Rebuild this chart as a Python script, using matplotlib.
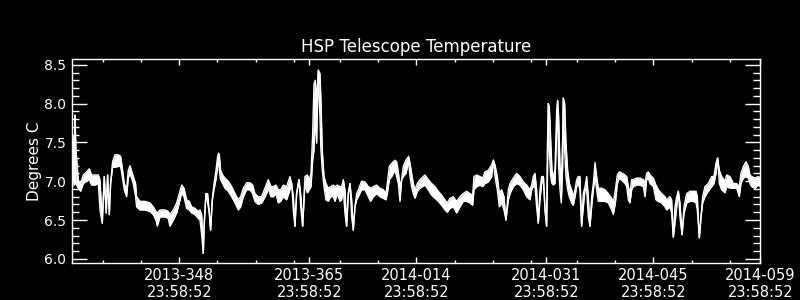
import matplotlib
matplotlib.use("Agg")
import matplotlib.pyplot as plt
from matplotlib.ticker import FixedLocator, MultipleLocator

# time in days relative to 2013-348 23:58:52
t_days = [-13.95, -13.77, -13.70, -13.64, -13.51, -13.21, -12.90, -12.55, -12.12, -11.77,
          -11.46, -11.03, -10.59, -10.37, -10.07, -9.81, -9.55, -9.37, -9.15, -8.98,
          -8.72, -8.41, -7.97, -7.67, -7.45, -7.19, -6.89, -6.67, -6.45, -6.01,
          -5.71, -5.58, -5.14, -4.49, -3.83, -3.40, -3.05, -2.87, -2.52, -1.87,
          -1.43, -1.22, -0.78, -0.34, 0.00, 0.31, 0.62, 0.96, 1.31, 1.62,
          2.05, 2.49, 2.71, 2.93, 3.14, 3.27, 3.49, 3.71, 3.93, 4.10,
          4.32, 4.54, 4.80, 5.02, 5.15, 5.24, 5.41, 5.67, 5.98, 6.41,
          6.85, 7.29, 7.72, 8.03, 8.38, 8.81, 9.25, 9.60, 9.90, 10.34,
          10.77, 11.12, 11.43, 11.64, 11.99, 12.30, 12.65, 12.95, 13.26, 13.61,
          14.04, 14.48, 14.70, 14.92, 15.13, 15.35, 15.66, 15.92, 16.14, 16.44,
          16.75, 17.01, 17.23, 17.45, 17.62, 17.79, 17.97, 18.19, 18.40, 18.53,
          18.71, 18.93, 19.19, 19.49, 19.80, 20.15, 20.37, 20.67, 21.02, 21.24,
          21.46, 21.67, 21.89, 22.11, 22.33, 22.55, 22.76, 22.98, 23.20, 23.42,
          23.85, 24.29, 24.73, 25.03, 25.38, 25.82, 26.25, 26.69, 27.04, 27.21,
          27.47, 27.78, 28.21, 28.43, 28.65, 28.87, 29.09, 29.30, 29.65, 30.00,
          30.18, 30.39, 30.61, 30.83, 31.14, 31.49, 32.14, 32.57, 33.01, 33.45,
          33.88, 34.32, 34.75, 35.06, 35.41, 35.84, 36.28, 36.72, 37.15, 37.59,
          38.02, 38.37, 38.55, 38.90, 39.33, 39.68, 39.99, 40.42, 40.86, 41.08,
          41.30, 41.60, 41.86, 42.17, 42.47, 42.73, 43.04, 43.26, 43.69, 44.13,
          44.56, 45.00, 45.44, 45.87, 46.09, 46.31, 46.53, 46.74, 46.96, 47.18,
          47.40, 47.62, 47.84, 48.05, 48.14, 48.27, 48.40, 48.58, 48.75, 48.93,
          49.14, 49.36, 49.49, 49.62, 49.80, 49.97, 50.15, 50.23, 50.41, 50.58,
          50.80, 51.02, 51.32, 51.54, 51.76, 51.98, 52.20, 52.41, 52.63, 52.85,
          53.07, 53.29, 53.50, 53.72, 53.94, 54.16, 54.38, 54.59, 54.81, 55.25,
          55.68, 56.12, 56.56, 56.77, 57.04, 57.30, 57.56, 58.00, 58.30, 58.52,
          58.74, 58.95, 59.17, 59.39, 59.83, 60.26, 60.70, 60.92, 61.13, 61.35,
          61.57, 62.01, 62.35, 62.66, 63.10, 63.53, 63.75, 64.19, 64.40, 64.62,
          64.84, 65.06, 65.28, 65.49, 65.76, 66.02, 66.37, 66.80, 67.24, 67.59,
          67.76, 68.02, 68.24, 68.46, 68.76, 69.20, 69.64, 69.94, 70.20, 70.42,
          70.64, 70.94, 71.38, 71.60, 72.03, 72.47, 72.91, 73.25, 73.47, 73.78,
          74.13, 74.43, 74.65, 74.87, 75.30, 75.74, 76.00]

# upper envelope of the temperature trace (deg C)
temp_hi = [7.27, 7.59, 7.00, 7.85, 7.40, 7.01, 6.97, 7.08, 7.12, 7.16,
           7.08, 7.08, 7.08, 7.02, 6.46, 7.06, 6.59, 7.08, 6.57, 6.97,
           7.25, 7.34, 7.34, 7.32, 7.17, 6.97, 6.89, 7.14, 7.20, 7.06,
           6.97, 6.80, 6.74, 6.74, 6.72, 6.67, 6.61, 6.59, 6.63, 6.63,
           6.61, 6.57, 6.63, 6.72, 6.84, 6.95, 6.91, 6.76, 6.74, 6.67,
           6.65, 6.61, 6.63, 6.57, 6.07, 6.46, 6.84, 6.84, 6.59, 6.37,
           6.76, 6.97, 7.14, 7.32, 7.36, 7.34, 7.14, 7.08, 7.04, 7.00,
           6.93, 6.84, 6.76, 6.80, 6.91, 6.98, 6.98, 6.95, 6.84, 6.80,
           6.80, 6.89, 6.97, 7.02, 6.93, 6.93, 6.95, 6.89, 6.89, 6.95,
           6.93, 7.06, 6.97, 6.80, 6.42, 6.84, 7.02, 6.80, 6.42, 7.06,
           7.08, 7.02, 7.10, 7.62, 8.25, 8.30, 8.04, 8.43, 8.39, 8.04,
           7.40, 7.06, 6.97, 6.91, 6.93, 6.95, 6.93, 6.95, 6.93, 6.93,
           7.02, 6.89, 6.42, 6.84, 6.97, 6.76, 6.37, 6.67, 6.84, 6.89,
           7.00, 6.99, 6.93, 6.91, 6.93, 6.95, 6.91, 6.89, 6.84, 6.97,
           7.19, 7.23, 7.27, 7.25, 7.12, 6.93, 7.02, 7.19, 7.27, 7.32,
           7.23, 7.10, 6.97, 6.89, 6.97, 7.02, 7.08, 7.02, 6.97, 6.93,
           6.87, 6.82, 6.76, 6.72, 6.78, 6.80, 6.74, 6.80, 6.84, 6.87,
           6.84, 6.82, 7.06, 7.08, 7.06, 7.04, 7.12, 7.14, 7.21, 7.27,
           7.21, 7.06, 6.84, 6.89, 6.80, 6.50, 6.89, 6.97, 7.04, 7.10,
           7.06, 6.99, 6.95, 6.89, 6.95, 7.06, 7.10, 6.89, 6.46, 6.89,
           7.06, 7.06, 6.63, 6.42, 7.40, 8.00, 7.96, 7.53, 7.14, 7.06,
           7.14, 7.90, 8.04, 7.83, 7.19, 6.97, 7.57, 8.07, 8.00, 7.49,
           7.14, 6.97, 6.89, 6.80, 6.89, 7.02, 7.06, 7.06, 6.42, 6.84,
           6.93, 7.06, 6.80, 6.42, 6.80, 6.97, 7.24, 7.06, 6.91, 6.91,
           6.89, 6.84, 6.78, 6.72, 6.89, 7.08, 7.12, 7.10, 7.08, 7.06,
           6.93, 6.84, 7.02, 7.02, 7.04, 7.04, 7.02, 6.97, 7.10, 7.12,
           7.08, 7.04, 6.95, 6.89, 6.84, 6.80, 6.76, 6.80, 6.76, 6.28,
           6.67, 6.80, 6.87, 6.72, 6.31, 6.67, 6.84, 6.87, 6.87, 6.87,
           6.80, 6.27, 6.54, 6.80, 6.93, 6.97, 7.06, 7.06, 7.23, 7.30,
           7.14, 7.06, 7.00, 7.08, 7.06, 6.97, 6.97, 6.93, 7.10, 7.19,
           7.25, 7.19, 7.08, 7.06, 7.04, 7.06, 7.04]

# lower envelope of the temperature trace (deg C)
temp_lo = [6.93, 7.59, 6.95, 7.85, 6.97, 6.91, 6.87, 6.97, 7.00, 7.02,
           6.95, 6.95, 6.97, 6.63, 6.46, 7.06, 6.59, 7.08, 6.57, 6.97,
           7.18, 7.18, 7.19, 7.19, 7.06, 6.89, 6.80, 7.04, 7.10, 6.97,
           6.80, 6.67, 6.63, 6.63, 6.61, 6.57, 6.50, 6.42, 6.54, 6.54,
           6.52, 6.42, 6.50, 6.59, 6.72, 6.85, 6.80, 6.65, 6.63, 6.59,
           6.57, 6.52, 6.50, 6.31, 6.07, 6.46, 6.84, 6.72, 6.59, 6.37,
           6.76, 6.89, 7.02, 7.19, 7.30, 7.14, 7.02, 6.97, 6.91, 6.87,
           6.80, 6.72, 6.63, 6.67, 6.80, 6.89, 6.89, 6.84, 6.74, 6.70,
           6.72, 6.78, 6.84, 6.91, 6.80, 6.80, 6.84, 6.72, 6.74, 6.80,
           6.76, 6.89, 6.97, 6.63, 6.42, 6.84, 7.02, 6.63, 6.42, 6.97,
           6.85, 6.89, 6.93, 7.27, 7.40, 7.83, 7.49, 8.43, 7.83, 7.40,
           7.14, 6.93, 6.76, 6.74, 6.80, 6.80, 6.74, 6.84, 6.74, 6.76,
           6.89, 6.59, 6.42, 6.84, 6.97, 6.54, 6.37, 6.67, 6.76, 6.80,
           6.89, 6.89, 6.80, 6.74, 6.80, 6.84, 6.80, 6.78, 6.76, 6.84,
           7.02, 7.06, 7.14, 7.06, 6.97, 6.74, 7.02, 7.06, 7.10, 7.25,
           7.06, 6.93, 6.84, 6.78, 6.87, 6.91, 6.95, 6.89, 6.82, 6.78,
           6.74, 6.69, 6.63, 6.60, 6.65, 6.67, 6.59, 6.67, 6.74, 6.74,
           6.72, 6.69, 6.89, 6.93, 6.95, 6.93, 6.97, 6.99, 7.06, 7.27,
           7.06, 6.89, 6.67, 6.72, 6.63, 6.50, 6.76, 6.84, 6.93, 6.97,
           6.95, 6.89, 6.80, 6.76, 6.89, 6.93, 6.93, 6.67, 6.46, 6.76,
           6.97, 7.06, 6.63, 6.42, 6.89, 8.00, 7.40, 7.06, 6.97, 6.95,
           6.97, 7.62, 8.04, 7.19, 6.89, 6.72, 7.19, 8.07, 7.40, 7.06,
           6.89, 6.80, 6.72, 6.69, 6.80, 6.93, 6.97, 6.89, 6.42, 6.67,
           6.89, 6.89, 6.54, 6.42, 6.67, 6.89, 7.06, 6.89, 6.74, 6.74,
           6.74, 6.72, 6.63, 6.57, 6.72, 6.97, 7.04, 7.00, 6.97, 6.93,
           6.76, 6.72, 6.89, 6.93, 6.95, 6.95, 6.93, 6.80, 7.02, 7.04,
           6.97, 6.93, 6.76, 6.74, 6.72, 6.67, 6.63, 6.67, 6.59, 6.28,
           6.46, 6.67, 6.87, 6.54, 6.31, 6.59, 6.72, 6.74, 6.74, 6.72,
           6.63, 6.27, 6.54, 6.72, 6.80, 6.87, 6.93, 6.97, 7.10, 7.30,
           6.97, 6.89, 6.85, 6.93, 6.91, 6.91, 6.91, 6.80, 6.97, 7.04,
           7.06, 7.04, 6.97, 6.93, 6.91, 6.95, 6.93]

x_range = [-14.03, 76.0]
y_range = [5.95, 8.57]
major_days = [0, 17, 31, 48, 62, 76]
major_labels = ["2013-348\n23:58:52", "2013-365\n23:58:52", "2014-014\n23:58:52",
                "2014-031\n23:58:52", "2014-045\n23:58:52", "2014-059\n23:58:52"]
minor_days = [-10, -5, 5, 10, 15, 21, 26, 36, 41, 46, 52, 57, 67, 72]
y_ticks = [6.0, 6.5, 7.0, 7.5, 8.0, 8.5]

plt.rcParams['font.family'] = ['DejaVu Sans']
fig = plt.figure(figsize=(8, 3), dpi=100, facecolor='black')
ax = fig.add_axes([0.09, 0.1243, 0.8604, 0.678], facecolor='black')

ax.fill_between(t_days, temp_lo, temp_hi, color='white', lw=0)
ax.plot(t_days, temp_hi, color='white', lw=1.0)
ax.plot(t_days, temp_lo, color='white', lw=1.0)

ax.set_xlim(x_range)
ax.set_ylim(y_range)

for s in ax.spines.values():
    s.set_color('white')
    s.set_linewidth(1.0)

ax.xaxis.set_major_locator(FixedLocator(major_days))
ax.xaxis.set_minor_locator(FixedLocator(minor_days))
ax.set_xticklabels(major_labels)
ax.yaxis.set_major_locator(FixedLocator(y_ticks))
ax.yaxis.set_minor_locator(MultipleLocator(0.1))
ax.set_yticklabels([f"{v:.1f}" for v in y_ticks])

ax.tick_params(axis='x', which='major', direction='in', length=4.6, width=1,
               color='white', labelcolor='white', labelsize=10.5, top=True, pad=3.5)
ax.tick_params(axis='x', which='minor', direction='in', length=2.4, width=1,
               color='white', top=True)
ax.tick_params(axis='y', which='major', direction='in', length=10.6, width=1,
               color='white', labelcolor='white', labelsize=10, right=True, pad=4)
ax.tick_params(axis='y', which='minor', direction='in', length=5.2, width=1,
               color='white', right=True)
for lab in ax.get_xticklabels():
    lab.set_linespacing(1.2)

ax.set_ylabel("Degrees C", color='white', fontsize=11, labelpad=2)
ax.set_title("HSP Telescope Temperature", color='white', fontsize=12, pad=5)

fig.savefig("out.png", dpi=100, facecolor='black')
